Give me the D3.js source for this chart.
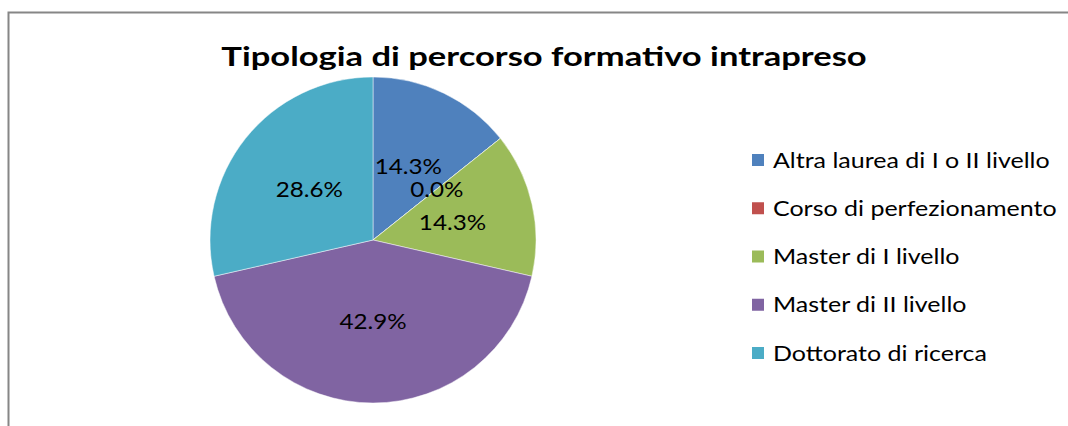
<!DOCTYPE html>
<html>
<head>
<meta charset="utf-8">
<script src="https://cdn.jsdelivr.net/npm/d3@7/dist/d3.min.js"></script>
<style>
  html, body { margin: 0; padding: 0; background: #fff; }
  svg { display: block; }
</style>
</head>
<body>
<svg id="chart" width="1068" height="426"></svg>
<script>
// Percorso formativo: categorie, quote (%) e colori
const categories = [
  "Altra laurea di I o II livello",
  "Corso di perfezionamento",
  "Master di I livello",
  "Master di II livello",
  "Dottorato di ricerca"
];
const values = [14.3, 0.0, 14.3, 42.9, 28.6];
const colors = ["#4F81BD", "#C0504D", "#9BBB59", "#8064A2", "#4BACC6"];
const title = "Tipologia di percorso formativo intrapreso";

const svg = d3.select("#chart");
const font = "Lato, 'Open Sans', sans-serif";

// Chart frame (clipped at the right and bottom edges)
svg.append("rect")
  .attr("x", 8.5).attr("y", 12.5)
  .attr("width", 1100).attr("height", 500)
  .attr("fill", "#fff")
  .attr("stroke", "#868686")
  .attr("stroke-width", 2);

// Title (slightly widened lettering)
svg.append("g")
  .attr("transform", "translate(544,66) scale(1.28,1)")
  .append("text")
  .attr("text-anchor", "middle")
  .attr("font-family", font)
  .attr("font-weight", "bold")
  .attr("font-size", 27)
  .attr("fill", "#000")
  .text(title);

// Pie
const cx = 373, cy = 240, R = 163;
const data = categories.map((c, i) => ({ name: c, value: values[i], color: colors[i] }));
const pie = d3.pie().sort(null).value(d => d.value);
const arc = d3.arc().innerRadius(0).outerRadius(R);
const arcs = pie(data);

const g = svg.append("g").attr("transform", `translate(${cx},${cy})`);
g.selectAll("path.slice")
  .data(arcs)
  .join("path")
  .attr("class", "slice")
  .attr("d", arc)
  .attr("fill", d => d.data.color)
  .attr("stroke", "#fff")
  .attr("stroke-opacity", 0.6)
  .attr("stroke-width", 0.8);

const fmt = d3.format(".1f");
g.selectAll("g.lbl")
  .data(arcs)
  .join("g")
  .attr("class", "lbl")
  .attr("transform", d => `translate(${arc.centroid(d)}) scale(1.1,1)`)
  .append("text")
  .attr("text-anchor", "middle")
  .attr("dy", "0.36em")
  .attr("font-family", font)
  .attr("font-size", 22)
  .attr("fill", "#000")
  .text(d => fmt(d.data.value) + "%");

// Legend
const legendY = d3.scalePoint().domain(categories).range([160, 353]);
const lg = svg.append("g");
const item = lg.selectAll("g.item")
  .data(data)
  .join("g")
  .attr("class", "item")
  .attr("transform", d => `translate(752,${legendY(d.name)})`);
item.append("rect")
  .attr("x", 0).attr("y", -6)
  .attr("width", 12).attr("height", 12)
  .attr("fill", d => d.color);
item.append("g")
  .attr("transform", "translate(21,0) scale(1.19,1)")
  .append("text")
  .attr("dy", "0.36em")
  .attr("font-family", font)
  .attr("font-size", 21)
  .attr("fill", "#000")
  .text(d => d.name);
</script>
</body>
</html>
